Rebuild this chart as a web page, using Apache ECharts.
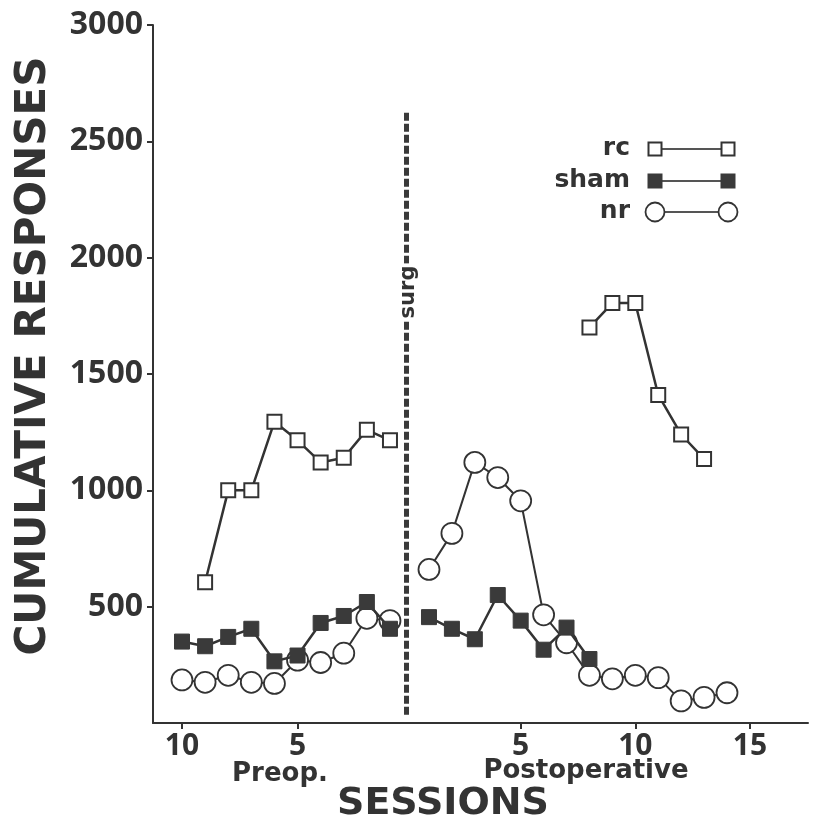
<!DOCTYPE html>
<html>
<head>
<meta charset="utf-8">
<title>Cumulative responses by session</title>
<script src="https://cdn.jsdelivr.net/npm/echarts@6/dist/echarts.min.js"></script>
<style>
  html, body { margin: 0; padding: 0; background: #fff; }
  #chart { width: 818px; height: 835px; }
</style>
</head>
<body>
<div id="chart"></div>
<script>
  // preop sessions count down to the surgery, postop sessions count up from it
  const preopSessions = [10, 9, 8, 7, 6, 5, 4, 3, 2, 1]
  const rcPreopSessions = [9, 8, 7, 6, 5, 4, 3, 2, 1]
  const rcPreop = [605, 1000, 1000, 1295, 1215, 1120, 1140, 1260, 1215]
  const shamPreop = [350, 330, 370, 405, 265, 290, 430, 460, 520, 405]
  const nrPreop = [185, 175, 205, 175, 170, 270, 260, 300, 450, 440]

  const postSessions = [1, 2, 3, 4, 5, 6, 7, 8, 9, 10, 11, 12, 13, 14]
  const rcPostSessions = [8, 9, 10, 11, 12, 13]
  const rcPost = [1700, 1805, 1805, 1410, 1240, 1135]
  const shamPostSessions = [1, 2, 3, 4, 5, 6, 7, 8]
  const shamPost = [455, 405, 360, 550, 440, 315, 410, 275]
  const nrPost = [660, 815, 1120, 1055, 955, 465, 345, 205, 190, 205, 195, 95, 110, 130]

  const preopTicks = [10, 5]
  const postTicks = [5, 10, 15]
  const surgerySession = 0 // on the postop scale
  const surgLineSpan = [35, 2625]

  const ink = '#333'
  const chart = echarts.init(document.getElementById('chart'))
  const pairs = (sessions, values) => sessions.map((s, i) => [s, values[i]])

  const marks = {
    rc: { symbol: 'rect', symbolSize: 14, width: 2.5, itemStyle: { color: '#fff', borderColor: ink, borderWidth: 2 } },
    sham: { symbol: 'rect', symbolSize: 15, width: 2.5, itemStyle: { color: '#3a3a3a', borderColor: '#3a3a3a', borderWidth: 1 } },
    nr: { symbol: 'circle', symbolSize: 21, width: 2, itemStyle: { color: '#fff', borderColor: ink, borderWidth: 1.8 } }
  }

  function line(name, axisIndex, data, z) {
    const m = marks[name]
    return {
      name: name,
      type: 'line',
      xAxisIndex: axisIndex,
      yAxisIndex: 0,
      data: data,
      z: z,
      symbol: m.symbol,
      symbolSize: m.symbolSize,
      showAllSymbol: true,
      itemStyle: m.itemStyle,
      lineStyle: { color: ink, width: m.width },
      emphasis: { disabled: true }
    }
  }

  const tickFont = { color: ink, fontFamily: 'Open Sans', fontWeight: 'bold', formatter: v => String(v) }

  // legend drawn by hand: symbol - line - symbol, name on the left
  const legendNames = ['rc', 'sham', 'nr']
  const legendRows = [149, 181, 212]
  const legend = []
  legendNames.forEach((name, i) => {
    const y = legendRows[i]
    const m = marks[name]
    legend.push({
      type: 'text', x: 630, y: y - 1, z: 100,
      style: { text: name, font: 'bold 25px "DejaVu Sans"', fill: ink, align: 'right', verticalAlign: 'middle' }
    })
    legend.push({
      type: 'line', z: 100,
      shape: { x1: 655, y1: y, x2: 728, y2: y },
      style: { stroke: '#555', lineWidth: 2 }
    })
    ;[655, 728].forEach(cx => {
      const s = name === 'nr' ? 9.5 : 6.5
      legend.push(name === 'nr'
        ? { type: 'circle', z: 101, shape: { cx: cx, cy: y, r: s },
            style: { fill: m.itemStyle.color, stroke: m.itemStyle.borderColor, lineWidth: 1.8 } }
        : { type: 'rect', z: 101, shape: { x: cx - s, y: y - s, width: 2 * s, height: 2 * s },
            style: { fill: m.itemStyle.color, stroke: m.itemStyle.borderColor, lineWidth: 2 } })
    })
  })

  const option = {
    animation: false,
    backgroundColor: '#fff',
    grid: { left: 153, right: 10, top: 25, bottom: 112 },
    xAxis: [
      {
        // preop scale, reversed so session 1 sits next to the surgery
        type: 'value', gridIndex: 0, position: 'bottom', inverse: true,
        min: -17.09, max: 11.255,
        axisLine: { show: false, onZero: false },
        splitLine: { show: false },
        axisTick: { customValues: preopTicks, length: 6, lineStyle: { color: ink, width: 2 } },
        axisLabel: Object.assign({ customValues: preopTicks, fontSize: 30, margin: 8 }, tickFont)
      },
      {
        type: 'value', gridIndex: 0, position: 'bottom',
        min: -11.04, max: 17.534,
        axisLine: { show: true, onZero: false, lineStyle: { color: ink, width: 2 } },
        splitLine: { show: false },
        axisTick: { customValues: postTicks, length: 6, lineStyle: { color: ink, width: 2 } },
        axisLabel: Object.assign({ customValues: postTicks, fontSize: 30, margin: 8 }, tickFont)
      }
    ],
    yAxis: {
      type: 'value', position: 'left', min: 0, max: 3000, interval: 500,
      axisLine: { show: true, onZero: false, lineStyle: { color: ink, width: 2 } },
      splitLine: { show: false },
      axisTick: { show: true, length: 6, lineStyle: { color: ink, width: 2 } },
      axisLabel: Object.assign({ fontSize: 32, margin: 10, showMinLabel: false }, tickFont)
    },
    series: [
      line('rc', 0, pairs(rcPreopSessions, rcPreop), 3),
      line('nr', 0, pairs(preopSessions, nrPreop), 4),
      line('sham', 0, pairs(preopSessions, shamPreop), 5),
      line('rc', 1, pairs(rcPostSessions, rcPost), 3),
      line('nr', 1, pairs(postSessions, nrPost), 4),
      Object.assign(line('sham', 1, pairs(shamPostSessions, shamPost), 5), {
        markLine: {
          silent: true,
          animation: false,
          symbol: ['none', 'none'],
          label: { show: false },
          lineStyle: { color: '#3a3a3a', width: 5, type: [8, 3] },
          data: [[
            { coord: [surgerySession, surgLineSpan[0]] },
            { coord: [surgerySession, surgLineSpan[1]] }
          ]]
        }
      })
    ],
    graphic: legend.concat([
      {
        type: 'text', x: 34, y: 356, rotation: Math.PI / 2, z: 100,
        style: { text: 'CUMULATIVE RESPONSES', font: 'bold 42px "DejaVu Sans"', fill: ink, align: 'center', verticalAlign: 'middle' }
      },
      {
        type: 'text', x: 443, y: 804, z: 100,
        style: { text: 'SESSIONS', font: 'bold 38px "DejaVu Sans"', fill: ink, align: 'center', verticalAlign: 'middle' }
      },
      {
        type: 'text', x: 280, y: 774, z: 100,
        style: { text: 'Preop.', font: 'bold 26px "DejaVu Sans"', fill: ink, align: 'center', verticalAlign: 'middle' }
      },
      {
        type: 'text', x: 586, y: 771, z: 100,
        style: { text: 'Postoperative', font: 'bold 26px "DejaVu Sans"', fill: ink, align: 'center', verticalAlign: 'middle' }
      },
      {
        type: 'text', x: 409, y: 292, rotation: Math.PI / 2, z: 100,
        style: { text: 'surg', font: 'bold 21px "DejaVu Sans"', fill: ink, align: 'center', verticalAlign: 'middle', backgroundColor: '#fff', padding: [0, 2] }
      }
    ])
  }

  chart.setOption(option)
  window.addEventListener('resize', () => chart.resize())
</script>
</body>
</html>
